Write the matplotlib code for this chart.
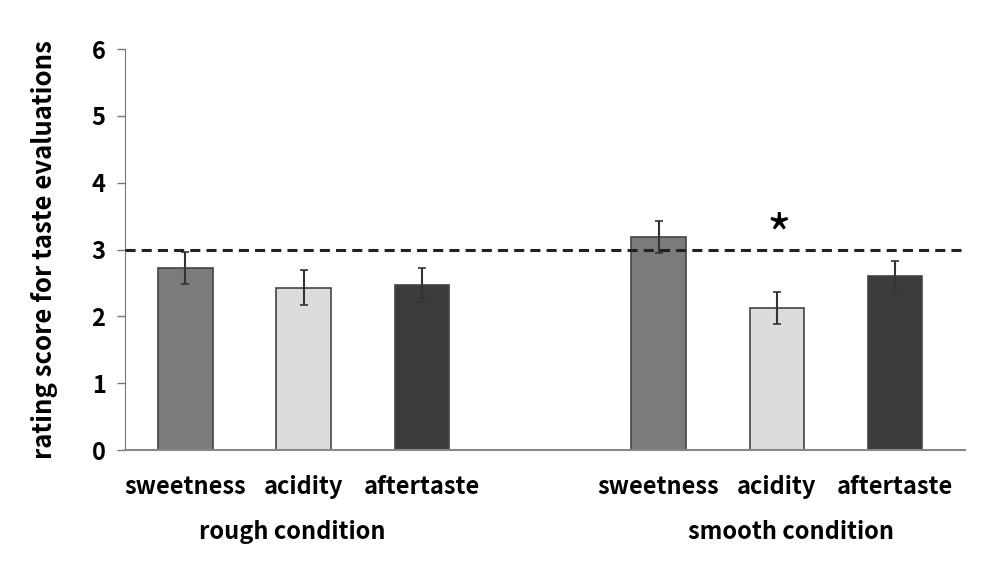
import matplotlib
matplotlib.use('Agg')
import matplotlib.pyplot as plt
import numpy as np

# Values
tastes = ['sweetness', 'acidity', 'aftertaste']
conditions = ['rough condition', 'smooth condition']
rough_means = [2.72, 2.43, 2.47]
rough_err = [0.24, 0.26, 0.25]
smooth_means = [3.19, 2.12, 2.60]
smooth_err = [0.24, 0.24, 0.23]
bar_colors = ['#7b7b7b', '#dcdcdc', '#3b3b3b']
neutral_line = 3

plt.rcParams['font.family'] = ['Noto Sans CJK JP', 'DejaVu Sans']

fig = plt.figure(figsize=(10, 5.74), dpi=100)
ax = fig.add_axes([0.125, 0.216, 0.84, 0.6986])

positions = [0, 1, 2, 4, 5, 6]
means = rough_means + smooth_means
errs = rough_err + smooth_err
colors = bar_colors * 2

ax.bar(positions, means, width=0.46, color=colors, edgecolor='#444444',
       linewidth=1.2, zorder=2)
ax.errorbar(positions, means, yerr=errs, fmt='none', ecolor='#333333',
            elinewidth=1.5, capsize=3, capthick=1.2, zorder=3)

ax.axhline(neutral_line, color='#222222', linestyle=(0, (3.3, 2)), linewidth=2.2, zorder=4)

ax.text(5.02, 3.16, '*', ha='center', va='center', fontsize=38)

fw = 'bold'
ax.set_xlim(-0.51, 6.59)
ax.set_ylim(0, 6)
ax.set_yticks(range(0, 7))
ax.set_xticks(positions)
ax.set_xticklabels(tastes * 2, fontsize=17, fontweight=fw)
ax.tick_params(axis='x', length=0, pad=18)
ax.tick_params(axis='y', direction='out', length=6, width=1, color='#777777',
               labelsize=17, pad=8)
for lab in ax.get_yticklabels():
    lab.set_fontweight(fw)

for s in ['top', 'right']:
    ax.spines[s].set_visible(False)
ax.spines['left'].set_color('#777777')
ax.spines['bottom'].set_color('#888888')
ax.spines['bottom'].set_linewidth(1.5)

ax.set_ylabel('rating score for taste evaluations', fontsize=18.5, fontweight=fw, labelpad=24)

# group labels under the taste names
ax.text(0.9, -1.23, conditions[0], ha='center', va='center', fontsize=17, fontweight=fw)
ax.text(5.12, -1.23, conditions[1], ha='center', va='center', fontsize=17, fontweight=fw)

fig.savefig('out.png', dpi=100)
